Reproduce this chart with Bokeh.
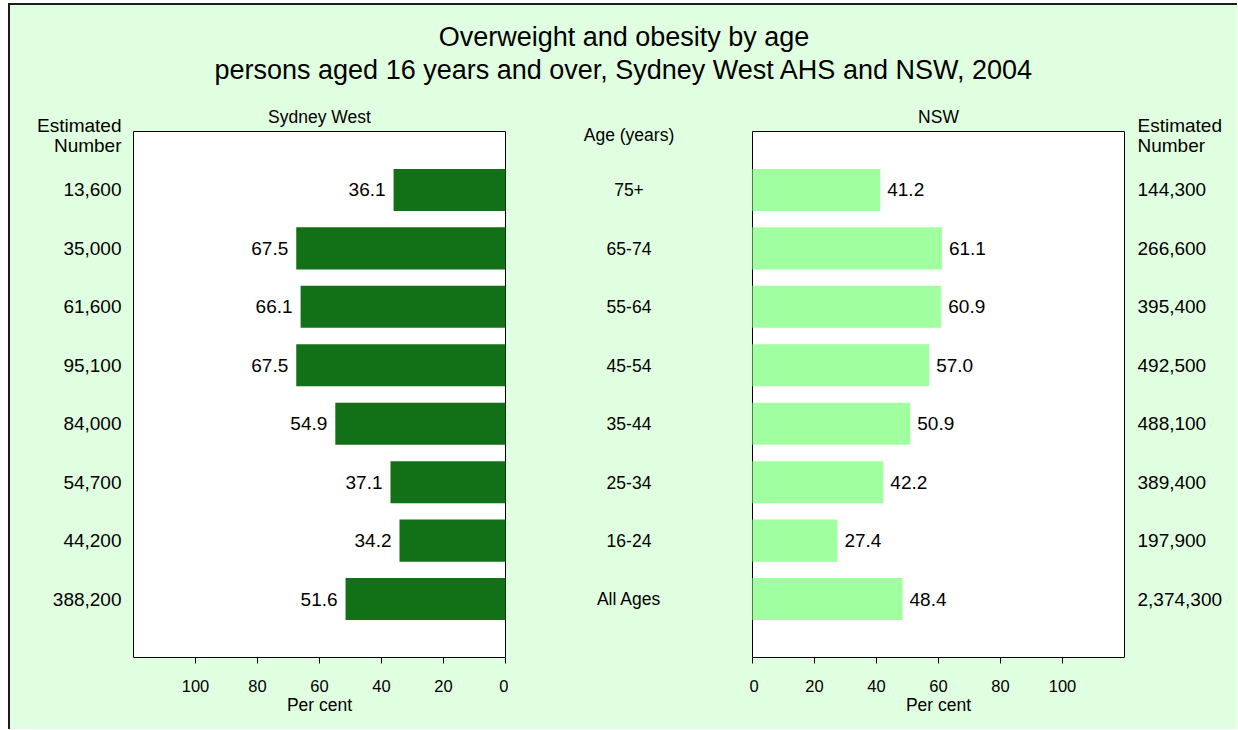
from bokeh.plotting import figure
from bokeh.models import Range1d, FixedTicker, Label, ColumnDataSource, BoxAnnotation
from bokeh.layouts import column, row
from bokeh.embed import file_html
from bokeh.resources import INLINE
from bokeh.core.properties import value

# ---------------- data ----------------
ages = ["75+", "65-74", "55-64", "45-54", "35-44", "25-34", "16-24", "All Ages"]
sydney_west_pct = [36.1, 67.5, 66.1, 67.5, 54.9, 37.1, 34.2, 51.6]
nsw_pct = [41.2, 61.1, 60.9, 57.0, 50.9, 42.2, 27.4, 48.4]
sydney_west_num = ["13,600", "35,000", "61,600", "95,100", "84,000", "54,700", "44,200", "388,200"]
nsw_num = ["144,300", "266,600", "395,400", "492,500", "488,100", "389,400", "197,900", "2,374,300"]
x_ticks = [0, 20, 40, 60, 80, 100]
x_max = 120

title_1 = "Overweight and obesity by age"
title_2 = "persons aged 16 years and over, Sydney West AHS and NSW, 2004"
left_title = "Sydney West"
right_title = "NSW"
number_header = ["Estimated", "Number"]
age_header = "Age (years)"
x_label = "Per cent"

# ---------------- style ----------------
BG = "#E0FFE0"
DARK = "#127016"
LIGHT = "#A0FF9E"
FONT = "Liberation Sans"

n = len(ages)
ys = list(range(1, n + 1))          # one slot per age group inside [0, n+1]

src = ColumnDataSource(dict(
    y=ys, age=ages, sw=sydney_west_pct, nsw=nsw_pct,
    sw_lab=[f"{v:.1f}" for v in sydney_west_pct],
    nsw_lab=[f"{v:.1f}" for v in nsw_pct],
))

# geometry (pixels)
TOP_H = 90
BOX_W = 372            # white plotting box width
BOX_H = 526            # white plotting box height
HEAD = 36              # header band above the box, inside the frames
PAD = 3                # frame extends a little past the box left/right
BOTTOM = 72
ROW_H = HEAD + BOX_H + BOTTOM
px_y = BOX_H / (n + 1)
px_x = BOX_W / x_max
pad_x = PAD / px_x

# header positions in data units (above the box: negative)
H_EST = -6 / px_y
H_NUM = 14 / px_y
H_AGE = 3 / px_y
TITLE_SCREEN_Y = BOX_H + 15

yr = Range1d(n + 1, -HEAD / px_y)


def style_panel(p, numbers, standoff, title):
    p.background_fill_color = BG
    p.border_fill_color = BG
    p.outline_line_color = None
    p.xgrid.visible = False
    p.ygrid.visible = False
    p.add_layout(BoxAnnotation(left=0, right=x_max, top=0, bottom=n + 1,
                               fill_color="white", fill_alpha=1,
                               line_color="black", line_alpha=1, line_width=1,
                               level="underlay"))
    xa = p.xaxis[0]
    xa.ticker = FixedTicker(ticks=x_ticks)
    xa.bounds = (0, x_max)
    xa.axis_line_color = "black"
    xa.major_tick_line_color = "black"
    xa.major_tick_out = 6
    xa.major_tick_in = 0
    xa.minor_tick_line_color = None
    xa.major_label_text_font = FONT
    xa.major_label_text_font_size = "16.5px"
    xa.major_label_text_color = "black"
    xa.major_label_standoff = 16
    xa.axis_label = x_label
    xa.axis_label_text_font = FONT
    xa.axis_label_text_font_size = "17.5px"
    xa.axis_label_text_font_style = "normal"
    xa.axis_label_text_color = "black"
    xa.axis_label_standoff = 0
    ya = p.yaxis[0]
    ya.ticker = FixedTicker(ticks=[H_EST, H_NUM] + ys)
    ya.axis_line_color = None
    ya.major_tick_line_color = None
    ya.major_tick_out = 0
    ya.major_tick_in = 0
    ya.minor_tick_line_color = None
    ya.major_label_text_font = FONT
    ya.major_label_text_font_size = "19px"
    ya.major_label_text_color = "black"
    ya.major_label_standoff = standoff
    ov = {H_EST: number_header[0], H_NUM: number_header[1]}
    ov.update(dict(zip(ys, numbers)))
    ya.major_label_overrides = ov
    p.add_layout(Label(x=x_max / 2, y=TITLE_SCREEN_Y, y_units="screen", text=title,
                       text_font=FONT, text_font_size="17.5px", text_color="black",
                       text_align="center", text_baseline="middle"))


# ---------------- left panel (Sydney West) ----------------
p1 = figure(width=120 + BOX_W + 2 * PAD, height=ROW_H,
            x_range=Range1d(x_max + pad_x, -pad_x), y_range=yr,
            min_border_left=120, min_border_right=0, min_border_top=0,
            min_border_bottom=BOTTOM, output_backend="svg", toolbar_location=None)
p1.hbar(y="y", right="sw", left=0, height=0.72, source=src, fill_color=DARK, line_color=None)
p1.text(x="sw", y="y", text="sw_lab", source=src, text_align="right", text_baseline="middle",
        x_offset=-8, text_font=value(FONT), text_font_size="19px", text_color="black")
style_panel(p1, sydney_west_num, 9, left_title)

# ---------------- middle (age labels) ----------------
MID_W = 241
mid = figure(width=MID_W, height=ROW_H, x_range=Range1d(-1, 1), y_range=yr,
             x_axis_type=None, y_axis_type=None, min_border=0,
             min_border_bottom=BOTTOM, output_backend="svg", toolbar_location=None)
mid.background_fill_color = BG
mid.border_fill_color = BG
mid.outline_line_color = None
mid.grid.visible = False
mid.text(x=0, y="y", text="age", source=src, text_align="center", text_baseline="middle",
         text_font=value(FONT), text_font_size="17.5px", text_color="black")
mid.add_layout(Label(x=0, y=H_AGE, text=age_header, text_font=FONT, text_font_size="17.5px",
                     text_color="black", text_align="center", text_baseline="middle"))

# ---------------- right panel (NSW) ----------------
p2 = figure(width=BOX_W + 2 * PAD + 110, height=ROW_H,
            x_range=Range1d(-pad_x, x_max + pad_x), y_range=yr,
            y_axis_location="right",
            min_border_left=0, min_border_right=110, min_border_top=0,
            min_border_bottom=BOTTOM, output_backend="svg", toolbar_location=None)
p2.hbar(y="y", right="nsw", left=0, height=0.72, source=src, fill_color=LIGHT, line_color=None)
p2.text(x="nsw", y="y", text="nsw_lab", source=src, text_align="left", text_baseline="middle",
        x_offset=7, text_font=value(FONT), text_font_size="19px", text_color="black")
style_panel(p2, nsw_num, 10, right_title)

# ---------------- title strip ----------------
top = figure(width=p1.width + MID_W + p2.width, height=TOP_H,
             x_range=Range1d(0, 1), y_range=Range1d(0, 1),
             x_axis_type=None, y_axis_type=None, min_border=0,
             output_backend="svg", toolbar_location=None)
top.background_fill_color = BG
top.border_fill_color = BG
top.outline_line_color = None
top.grid.visible = False
top.add_layout(Label(x=0.5, y=59, y_units="screen", text=title_1, text_font=FONT,
                     text_font_size="27px", text_color="black", text_align="center",
                     text_baseline="middle"))
top.add_layout(Label(x=0.5, y=26, y_units="screen", text=title_2, text_font=FONT,
                     text_font_size="27px", text_color="black", text_align="center",
                     text_baseline="middle"))

layout = column(top, row(p1, mid, p2),
                styles={"border-left": "2px solid #1c1c1c", "border-top": "2px solid #1c1c1c",
                        "margin-left": "8px", "margin-top": "3px", "background-color": BG})

with open("out.html", "w") as f:
    f.write(file_html(layout, INLINE))
